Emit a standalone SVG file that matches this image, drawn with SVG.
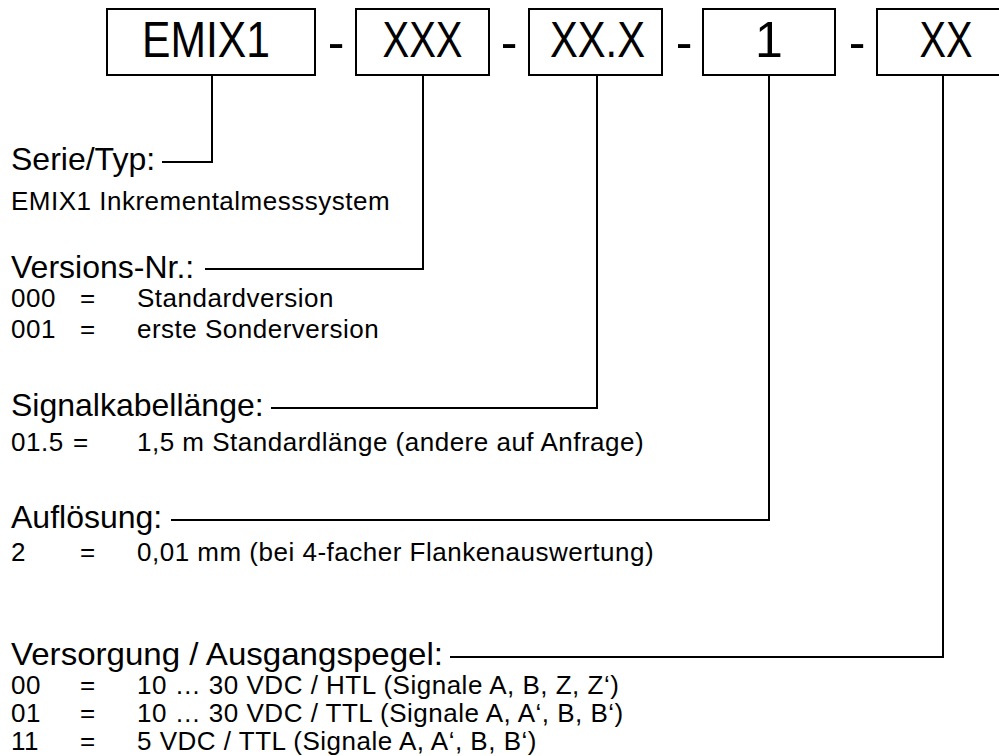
<svg xmlns="http://www.w3.org/2000/svg" width="999" height="756" viewBox="0 0 999 756">
<style>
text{font-family:"Liberation Sans",Arial,sans-serif;fill:#000}
.box{fill:#fff;stroke:#000;stroke-width:2}
.big{font-size:50px;text-anchor:middle}
.dash{font-size:50px;text-anchor:middle}
.h{font-size:32px}
.b{font-size:26px;letter-spacing:0.5px}
.c{fill:none;stroke:#000;stroke-width:2}
</style>
<rect width="999" height="756" fill="#fff"/>
<g id="box-emix1"><rect class="box" x="107" y="9" width="208" height="66"/><text class="big" x="206" y="57" textLength="128" lengthAdjust="spacingAndGlyphs">EMIX1</text></g>
<g id="box-xxx"><rect class="box" x="356" y="9" width="133" height="66"/><text class="big" x="422.5" y="57" textLength="80" lengthAdjust="spacingAndGlyphs">XXX</text></g>
<g id="box-xxdx"><rect class="box" x="529" y="9" width="133" height="66"/><text class="big" x="597.5" y="57" textLength="95" lengthAdjust="spacingAndGlyphs">XX.X</text></g>
<g id="box-1"><rect class="box" x="703" y="9" width="132" height="66"/><text class="big" x="769" y="57">1</text></g>
<g id="box-xx"><rect class="box" x="877" y="9" width="133" height="66"/><text class="big" x="946" y="57" textLength="53" lengthAdjust="spacingAndGlyphs">XX</text></g>
<g id="dashes">
<text class="dash" x="336" y="59">-</text>
<text class="dash" x="509" y="59">-</text>
<text class="dash" x="684" y="59">-</text>
<text class="dash" x="857" y="59">-</text>
</g>
<g id="connectors">
<polyline class="c" points="162,162 212,162 212,75"/>
<polyline class="c" points="205,269 423,269 423,75"/>
<polyline class="c" points="271,408 597,408 597,75"/>
<polyline class="c" points="171,520 769,520 769,75"/>
<polyline class="c" points="450,657 943,657 943,75"/>
</g>
<g id="serie">
<text class="h" x="11" y="170">Serie/Typ:</text>
<text class="b" x="11" y="210">EMIX1 Inkrementalmesssystem</text>
</g>
<g id="version">
<text class="h" x="11" y="278">Versions-Nr.:</text>
<text class="b" y="307"><tspan x="11">000</tspan><tspan x="80">=</tspan><tspan x="137">Standardversion</tspan></text>
<text class="b" y="338"><tspan x="11">001</tspan><tspan x="80">=</tspan><tspan x="137">erste Sonderversion</tspan></text>
</g>
<g id="kabel">
<text class="h" x="11" y="416">Signalkabellänge:</text>
<text class="b" y="451"><tspan x="11">01.5</tspan><tspan x="73">=</tspan><tspan x="137">1,5 m Standardlänge (andere auf Anfrage)</tspan></text>
</g>
<g id="aufloesung">
<text class="h" x="11" y="528">Auflösung:</text>
<text class="b" y="561"><tspan x="11">2</tspan><tspan x="80">=</tspan><tspan x="137">0,01 mm (bei 4-facher Flankenauswertung)</tspan></text>
</g>
<g id="versorgung">
<text class="h" x="11" y="665" textLength="432" lengthAdjust="spacingAndGlyphs">Versorgung / Ausgangspegel:</text>
<text class="b" y="694"><tspan x="11">00</tspan><tspan x="80">=</tspan><tspan x="137">10 … 30 VDC / HTL (Signale A, B, Z, Z‘)</tspan></text>
<text class="b" y="722"><tspan x="11">01</tspan><tspan x="80">=</tspan><tspan x="137">10 … 30 VDC / TTL (Signale A, A‘, B, B‘)</tspan></text>
<text class="b" y="750"><tspan x="11">11</tspan><tspan x="80">=</tspan><tspan x="137">5 VDC / TTL (Signale A, A‘, B, B‘)</tspan></text>
</g>
</svg>
